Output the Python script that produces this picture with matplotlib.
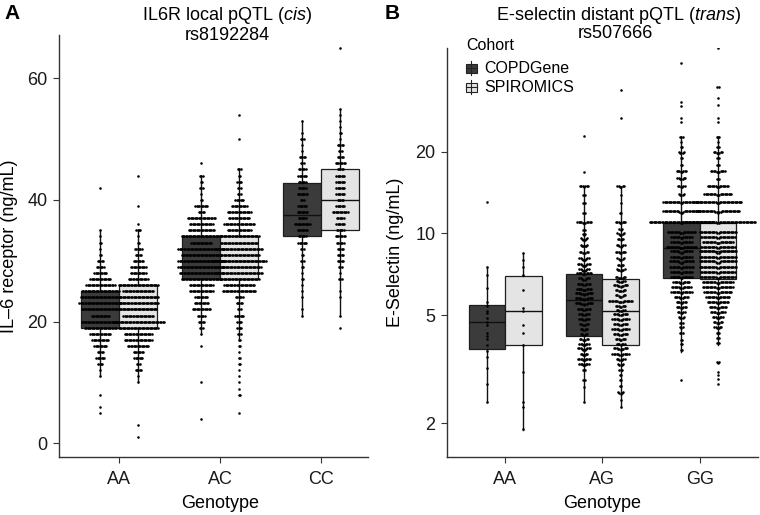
import matplotlib
matplotlib.use("Agg")
import matplotlib.pyplot as plt
from matplotlib.patches import Rectangle
from matplotlib.lines import Line2D
import numpy as np

plt.rcParams['font.family'] = ['Liberation Sans', 'DejaVu Sans']
plt.rcParams['mathtext.fontset'] = 'custom'
plt.rcParams['mathtext.rm'] = 'Liberation Sans'
plt.rcParams['mathtext.it'] = 'Liberation Sans:italic'

# ---- data ----
cohorts = ["COPDGene", "SPIROMICS"]
cohort_fill = ["#3b3b3b", "#e4e4e4"]

a_genotypes = ["AA", "AC", "CC"]
b_genotypes = ["AA", "AG", "GG"]

# box statistics, order: AA-COPDGene, AA-SPIROMICS, AC-..., CC-...
a_q1 = [19, 19, 27, 27, 34, 35]
a_med = [22, 22, 30, 30, 37.5, 40]
a_q3 = [25, 26, 34, 34, 42.7, 45]
a_lo = [11, 10, 18, 17, 21, 21]
a_hi = [35, 35, 44, 45, 53, 55]

b_q1 = [3.77, 3.88, 4.19, 3.88, 6.88, 6.78]
b_med = [4.73, 5.17, 5.68, 5.17, 8.8, 8.6]
b_q3 = [5.44, 6.96, 7.06, 6.82, 10.9, 10.9]
b_lo = [2.40, 1.89, 2.40, 2.30, 3.66, 3.88]
b_hi = [7.53, 8.47, 14.8, 14.8, 22.6, 22.6]

# individual measurements: value -> number of subjects
a_aa_copd = {42: 1, 35: 1, 34: 1, 33: 2, 32: 1, 31: 2, 30: 5, 29: 6, 28: 10, 27: 16,
             26: 22, 25: 28, 24: 30, 23: 32, 22: 28, 21: 14, 20: 28, 19: 24, 18: 16,
             17: 13, 16: 10, 15: 5, 14: 7, 13: 4, 12: 1, 11: 1, 8: 1, 6: 1, 5: 1}
a_aa_spir = {44: 1, 39: 1, 36: 1, 35: 4, 34: 1, 33: 2, 32: 6, 31: 5, 30: 8, 29: 12,
             28: 12, 27: 15, 26: 30, 25: 23, 24: 30, 23: 30, 22: 28, 21: 23, 20: 39,
             19: 30, 18: 21, 17: 21, 16: 16, 15: 8, 14: 7, 13: 3, 12: 5, 11: 1, 10: 1,
             3: 1, 1: 1}
a_ac_copd = {46: 1, 44: 3, 43: 2, 42: 3, 41: 1, 40: 2, 39: 10, 38: 5, 37: 21, 36: 18,
             35: 20, 34: 30, 33: 16, 32: 35, 31: 30, 30: 35, 29: 35, 28: 33, 27: 30,
             26: 18, 25: 18, 24: 10, 23: 11, 22: 14, 21: 6, 20: 5, 19: 3, 18: 1,
             16: 1, 10: 1, 4: 1}
a_ac_spir = {54: 1, 50: 1, 45: 3, 44: 2, 43: 4, 42: 3, 41: 3, 40: 7, 39: 12, 38: 18,
             37: 16, 36: 23, 35: 18, 34: 30, 33: 28, 32: 35, 31: 30, 30: 40, 29: 33,
             28: 35, 27: 30, 26: 23, 25: 25, 24: 6, 23: 5, 22: 3, 21: 7, 20: 4, 19: 4,
             18: 3, 17: 2, 16: 2, 15: 1, 14: 2, 13: 2, 12: 1, 11: 1, 10: 1, 9: 1,
             8: 2, 5: 1}
a_cc_copd = {53: 1, 51: 1, 50: 3, 49: 1, 48: 1, 47: 5, 46: 3, 45: 6, 44: 7, 43: 6,
             42: 6, 41: 8, 40: 3, 39: 7, 38: 8, 37: 6, 36: 12, 35: 8, 34: 6, 33: 7,
             32: 3, 31: 2, 30: 3, 29: 2, 28: 1, 27: 2, 26: 1, 25: 1, 24: 1, 22: 1, 21: 1}
a_cc_spir = {65: 1, 55: 1, 54: 1, 53: 1, 52: 1, 51: 2, 50: 1, 49: 5, 48: 3, 47: 5,
             46: 8, 45: 5, 44: 7, 43: 7, 42: 7, 41: 7, 40: 5, 39: 7, 38: 12, 37: 6,
             36: 7, 35: 6, 34: 8, 33: 6, 32: 5, 31: 5, 30: 5, 29: 3, 28: 1, 27: 3,
             25: 1, 24: 1, 21: 1, 19: 1}

b_aa_copd = {13.0: 1, 7.5: 1, 7.0: 1, 6.3: 1, 5.6: 1, 5.4: 1, 5.2: 1, 5.1: 1, 4.9: 1,
             4.7: 1, 4.6: 1, 4.3: 1, 4.2: 1, 4.1: 1, 3.9: 1, 3.7: 1, 3.5: 1, 3.2: 1,
             2.8: 1, 2.4: 1}
b_aa_spir = {8.5: 1, 8.0: 1, 7.5: 1, 7.0: 1, 6.2: 1, 5.3: 1, 5.2: 1, 4.6: 1, 4.3: 1,
             3.9: 1, 3.1: 1, 2.4: 1, 2.3: 1, 1.9: 1}
b_ag_copd = {22.8: 1, 16.8: 1, 14.8: 7, 13.8: 2, 12.9: 2, 11.9: 2, 10.9: 11, 10.3: 2,
             9.86: 3, 9.45: 6, 8.93: 6, 8.44: 7, 7.98: 8, 7.58: 10, 7.28: 8, 7.06: 11,
             6.74: 8, 6.45: 10, 6.18: 11, 5.94: 13, 5.69: 13, 5.45: 13, 5.22: 10,
             5.0: 8, 4.79: 8, 4.59: 7, 4.40: 6, 4.22: 6, 4.04: 7, 3.88: 8, 3.72: 10,
             3.56: 6, 3.41: 10, 3.27: 8, 3.13: 3, 2.88: 2, 2.73: 1, 2.40: 1}
b_ag_spir = {33.6: 1, 26.7: 1, 14.8: 6, 13.8: 1, 12.9: 1, 11.9: 2, 10.9: 8, 10.3: 3,
             9.86: 6, 9.45: 5, 8.93: 7, 8.44: 8, 7.98: 6, 7.58: 5, 7.28: 7, 6.82: 8,
             6.6: 7, 6.35: 11, 6.1: 8, 5.84: 8, 5.56: 18, 5.35: 8, 5.17: 7, 5.0: 11,
             4.79: 13, 4.59: 11, 4.40: 13, 4.22: 11, 4.04: 8, 3.88: 7, 3.72: 11,
             3.56: 13, 3.41: 7, 3.27: 5, 3.13: 3, 3.0: 2, 2.88: 2, 2.73: 2, 2.57: 5,
             2.43: 1, 2.30: 1}
b_gg_copd = {42.2: 1, 30.5: 1, 29.5: 1, 26.5: 1, 25.7: 1, 22.6: 3, 21.7: 1, 20.8: 2,
             19.7: 5, 18.9: 2, 17.8: 2, 16.8: 8, 15.8: 7, 14.8: 6, 13.8: 5, 12.9: 28,
             11.9: 28, 10.9: 48, 10.0: 21, 9.6: 16, 9.2: 16, 8.8: 23, 8.47: 16,
             8.1: 16, 7.78: 18, 7.45: 18, 7.14: 16, 6.84: 16, 6.55: 13, 6.28: 15,
             6.02: 16, 5.77: 11, 5.53: 8, 5.3: 8, 5.08: 6, 4.87: 5, 4.67: 3, 4.48: 3,
             4.29: 3, 4.05: 2, 3.9: 2, 3.72: 2, 2.89: 1}
b_gg_spir = {48.0: 1, 34.6: 2, 31.6: 1, 29.6: 1, 26.7: 1, 25.7: 1, 22.6: 3, 21.7: 1,
             20.8: 2, 19.7: 7, 18.9: 2, 17.8: 2, 16.8: 11, 15.8: 2, 14.8: 16,
             13.8: 21, 12.9: 36, 11.9: 33, 10.9: 56, 10.0: 28, 9.6: 26, 9.2: 23,
             8.8: 26, 8.47: 28, 8.1: 28, 7.78: 28, 7.45: 28, 7.14: 26, 6.84: 26,
             6.55: 23, 6.28: 23, 6.02: 21, 5.77: 18, 5.53: 16, 5.3: 13, 5.08: 11,
             4.87: 8, 4.67: 7, 4.48: 6, 4.29: 3, 4.1: 2, 3.95: 2, 3.33: 3, 3.1: 1,
             3.0: 1, 2.9: 1, 2.8: 1}

a_points = [a_aa_copd, a_aa_spir, a_ac_copd, a_ac_spir, a_cc_copd, a_cc_spir]
b_points = [b_aa_copd, b_aa_spir, b_ag_copd, b_ag_spir, b_gg_copd, b_gg_spir]

# ---- figure ----
W, H = 760, 515
fig = plt.figure(figsize=(W / 100, H / 100), dpi=100)


def fx(px):
    return px / W


def fy(py):
    return 1 - py / H


ax_a = fig.add_axes([fx(58.7), fy(456.7), (381.9 - 58.7) / W, (456.7 - 35) / H])
ax_b = fig.add_axes([fx(446.7), fy(456.7), (758 - 446.7) / W, (456.7 - 48.3) / H])

dodge = 0.1875
box_w = 0.375
positions = [g + s * dodge for g in (1, 2, 3) for s in (-1, 1)]
fills = cohort_fill * 3


def draw_boxes(ax, q1, med, q3, lo, hi):
    stats = [dict(q1=q1[i], med=med[i], q3=q3[i], whislo=lo[i], whishi=hi[i], fliers=[])
             for i in range(len(q1))]
    bp = ax.bxp(stats, positions=positions, widths=box_w, patch_artist=True,
                showcaps=False, showfliers=False, manage_ticks=False,
                boxprops=dict(edgecolor="#1e1e1e", linewidth=0.9),
                medianprops=dict(color="#111111", linewidth=1.0),
                whiskerprops=dict(color="#111111", linewidth=1.0))
    for patch, c in zip(bp["boxes"], fills):
        patch.set_facecolor(c)
        patch.set_zorder(2)


def draw_swarm(ax, groups, logy=False, step_px=1.35):
    x0, x1 = ax.get_xlim()
    unit_px = ax.bbox.width / (x1 - x0)
    y0, y1 = ax.get_ylim()
    if logy:
        ypx = ax.bbox.height / (np.log10(y1) - np.log10(y0))
    xs, ys = [], []
    for pos, grp in zip(positions, groups):
        for val, n in grp.items():
            off = (np.arange(n) - (n - 1) / 2) * step_px
            xs.extend(pos + off / unit_px)
            if logy:
                lift = np.minimum(np.abs(off) * 0.5, 1.6)
                ys.extend(10 ** (np.log10(val) + lift / ypx))
            else:
                ys.extend([val] * n)
    ax.scatter(xs, ys, s=3.4, c="black", linewidths=0, zorder=3)


def style_axis(ax):
    for side in ("top", "right"):
        ax.spines[side].set_visible(False)
    for side in ("left", "bottom"):
        ax.spines[side].set_color("#333333")
        ax.spines[side].set_linewidth(1.0)
    ax.tick_params(axis="both", length=4, width=0.8, color="#333333",
                   labelsize=13, labelcolor="#1a1a1a")
    ax.tick_params(axis="x", pad=6)
    ax.tick_params(axis="y", pad=4)
    ax.set_facecolor("none")


# panel A
ax_a.set_xlim(0.4, 3.6)
ax_a.set_ylim(-2.2, 67.1)
draw_boxes(ax_a, a_q1, a_med, a_q3, a_lo, a_hi)
draw_swarm(ax_a, a_points)
ax_a.set_xticks([1, 2, 3], a_genotypes)
ax_a.set_yticks([0, 20, 40, 60])
style_axis(ax_a)
ax_a.spines["bottom"].set_bounds(0.4, 3.46)

# panel B
ax_b.set_yscale("log")
ax_b.set_xlim(0.4, 3.6)
ax_b.set_ylim(1.507, 48.0)
draw_boxes(ax_b, b_q1, b_med, b_q3, b_lo, b_hi)
draw_swarm(ax_b, b_points, logy=True)
ax_b.set_xticks([1, 2, 3], b_genotypes)
ax_b.set_yticks([2, 5, 10, 20], ["2", "5", "10", "20"])
ax_b.yaxis.set_minor_locator(matplotlib.ticker.NullLocator())
style_axis(ax_b)

# titles and labels
fig.text(fx(4), fy(19), "A", fontsize=15, fontweight="bold", va="baseline")
fig.text(fx(385), fy(19), "B", fontsize=15, fontweight="bold", va="baseline")
fig.text(fx(227), fy(19.5), r"IL6R local pQTL ($\mathit{cis}$)", fontsize=13,
         ha="center", va="baseline")
fig.text(fx(227), fy(40), "rs8192284", fontsize=13, ha="center", va="baseline")
fig.text(fx(619), fy(19.5), r"E-selectin distant pQTL ($\mathit{trans}$)", fontsize=13,
         ha="center", va="baseline")
fig.text(fx(615), fy(37.7), "rs507666", fontsize=13, ha="center", va="baseline")

fig.text(fx(10), fy(246), "IL\u20136 receptor (ng/mL)", fontsize=13, rotation=90,
         ha="center", va="center")
fig.text(fx(396), fy(252), "E-Selectin (ng/mL)", fontsize=13, rotation=90,
         ha="center", va="center")
fig.text(fx(220.5), fy(503), "Genotype", fontsize=13, ha="center", va="center")
fig.text(fx(602), fy(503), "Genotype", fontsize=13, ha="center", va="center")

# legend (drawn in figure pixels)
fig.text(fx(466), fy(46), "Cohort", fontsize=11.5, va="center")
for k, (name, col) in enumerate(zip(cohorts, cohort_fill)):
    yc = 68.3 + k * 19
    fig.add_artist(Line2D([fx(471), fx(471)], [fy(yc - 7), fy(yc + 7)],
                          color="#222222", lw=0.8, transform=fig.transFigure))
    fig.add_artist(Rectangle((fx(465.5), fy(yc + 4.5)), 11 / W, 9 / H,
                             facecolor=col, edgecolor="#222222", lw=0.8,
                             transform=fig.transFigure))
    fig.add_artist(Line2D([fx(465.5), fx(476.5)], [fy(yc), fy(yc)],
                          color="#222222", lw=0.8, transform=fig.transFigure))
    fig.text(fx(484), fy(yc), name, fontsize=11.5, va="center")

fig.savefig("out.png", dpi=100)
